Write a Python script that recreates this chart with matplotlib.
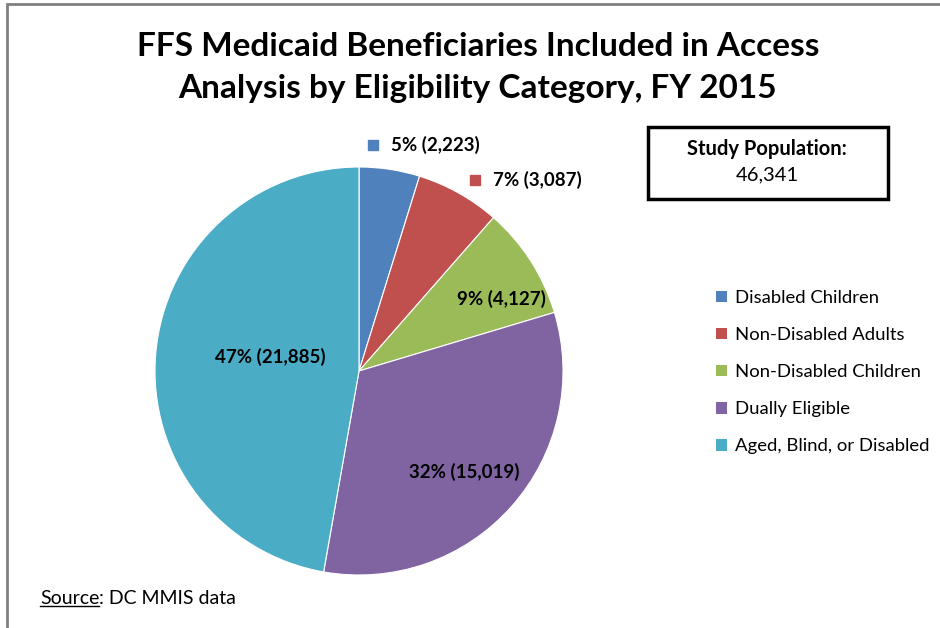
import matplotlib
matplotlib.use("Agg")
import matplotlib.pyplot as plt
from matplotlib.patches import Rectangle
import numpy as np

plt.rcParams['font.family'] = ['Lato', 'DejaVu Sans']

categories = ["Disabled Children", "Non-Disabled Adults", "Non-Disabled Children",
              "Dually Eligible", "Aged, Blind, or Disabled"]
counts = [2223, 3087, 4127, 15019, 21885]
percent_labels = ["5%", "7%", "9%", "32%", "47%"]
colors = ["#4F81BD", "#C0504D", "#9BBB59", "#8064A2", "#4BACC6"]
total_label = "46,341"

W, H = 940, 628
fig = plt.figure(figsize=(W / 100, H / 100), dpi=100)

# chart frame
fig.patches.append(Rectangle((7 / W, -0.05), 1.1, (H - 4) / H + 0.05, transform=fig.transFigure,
                             fill=False, edgecolor="#808080", linewidth=2))

cx, cy, r = 359, 371, 204
ax = fig.add_axes([(cx - r) / W, (H - cy - r) / H, 2 * r / W, 2 * r / H])
wedges, _ = ax.pie(counts, colors=colors, startangle=90, counterclock=False,
                   wedgeprops=dict(edgecolor="white", linewidth=0.8))
ax.set_xlim(-1, 1)
ax.set_ylim(-1, 1)
ax.set_aspect("equal")
ax.axis("off")

labels = [f"{p} ({c:,})" for p, c in zip(percent_labels, counts)]

# label layout (data units of pie axes): (x, y, ha, with_marker)
layout = [(0.157, 1.108, "left", True),
          (0.657, 0.936, "left", True),
          (0.696, 0.353, "center", False),
          (0.515, -0.495, "center", False),
          (-0.436, 0.069, "center", False)]
for lab, (x, y, ha, mk), col in zip(labels, layout, colors):
    ax.text(x, y, lab, ha=ha, va="center", fontsize=13.5, fontweight="bold",
            color="black", clip_on=False)
    if mk:
        ax.plot([x - 0.09], [y], marker="s", markersize=7, color=col, clip_on=False)

fig.text(478 / W, 1 - 67.5 / H, "FFS Medicaid Beneficiaries Included in Access\nAnalysis by Eligibility Category, FY 2015",
         ha="center", va="center", fontsize=24, fontweight="bold", linespacing=1.55)

# study population box
fig.patches.append(Rectangle((648 / W, 1 - 199 / H), 240 / W, 72 / H, transform=fig.transFigure,
                             fill=False, edgecolor="black", linewidth=2.5))
fig.text(767 / W, 1 - 149 / H, "Study Population:", ha="center", va="center",
         fontsize=14.5, fontweight="bold")
fig.text(767 / W, 1 - 175 / H, total_label, ha="center", va="center", fontsize=14.5)

leg = fig.legend(wedges, categories, loc="upper left", bbox_to_anchor=(716 / W, 1 - 290 / H),
                 frameon=False, fontsize=13.3, handlelength=0.6, handleheight=0.6,
                 handletextpad=0.45, labelspacing=1.14, borderaxespad=0, borderpad=0)
for h in leg.legend_handles:
    h.set_edgecolor("none")

t = fig.text(40 / W, 1 - 598 / H, "Source", ha="left", va="center", fontsize=14)
fig.canvas.draw()
bb = t.get_window_extent()
fig.text(bb.x1 / W, 1 - 598 / H, ": DC MMIS data", ha="left", va="center", fontsize=14)
fig.add_artist(plt.Line2D([bb.x0 / W, bb.x1 / W], [(bb.y0 + 1) / H] * 2, color="black", linewidth=1))

fig.savefig("out.png", dpi=100)
